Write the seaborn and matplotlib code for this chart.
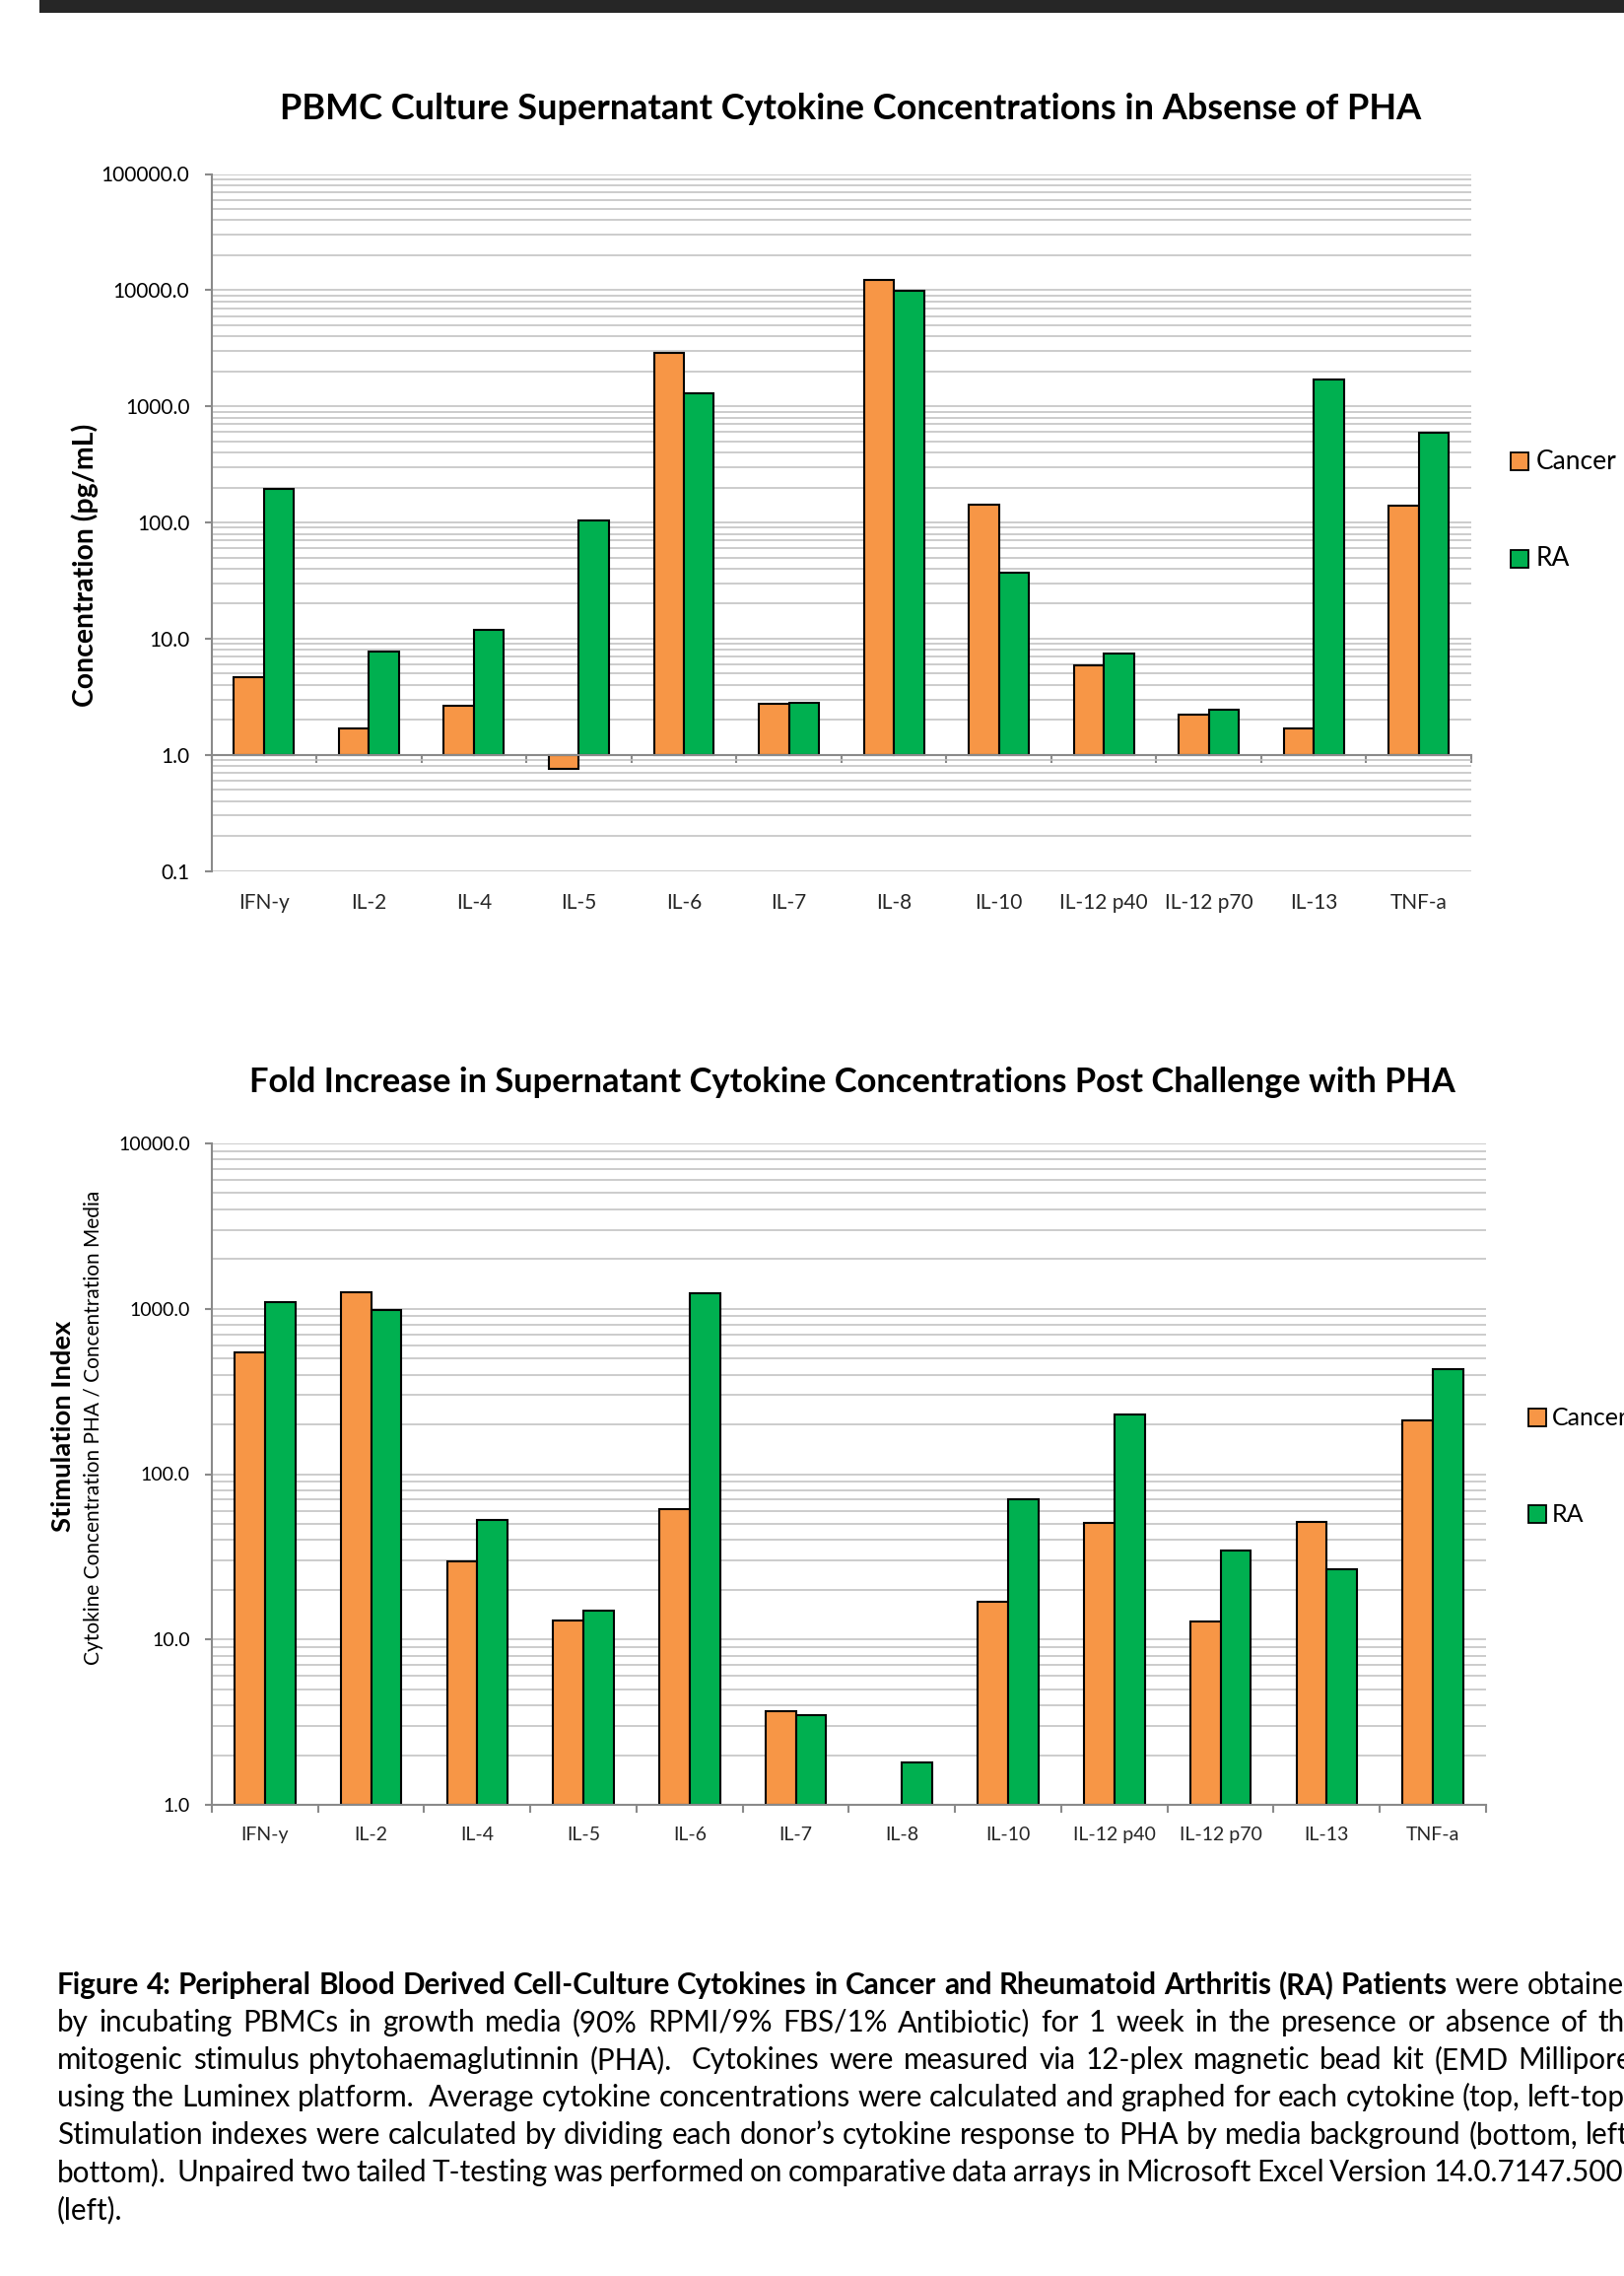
import numpy as np
import pandas as pd
import matplotlib
matplotlib.use("Agg")
import matplotlib.pyplot as plt
import matplotlib.ticker as mticker
from matplotlib.patches import Rectangle
import seaborn as sns

# ---- data -----------------------------------------------------------------
cytokines = ["IFN-y", "IL-2", "IL-4", "IL-5", "IL-6", "IL-7", "IL-8",
             "IL-10", "IL-12 p40", "IL-12 p70", "IL-13", "TNF-a"]
groups = ["Cancer", "RA"]

# average supernatant concentration without PHA (pg/mL)
cancer_conc = [4.7, 1.68, 2.63, 0.76, 2880, 2.74, 12200, 142, 5.84, 2.22, 1.70, 139]
ra_conc = [195, 7.8, 11.9, 105, 1300, 2.79, 9900, 37.3, 7.42, 2.45, 1710, 596]

# stimulation index (PHA / media)
cancer_si = [545, 1255, 29.7, 13.0, 61.6, 3.70, np.nan, 16.9, 50.8, 12.8, 51.6, 210]
ra_si = [1097, 982, 52.7, 14.9, 1245, 3.49, 1.81, 70.0, 228, 34.3, 26.6, 430]

conc_ticks = [0.1, 1, 10, 100, 1000, 10000, 100000]
si_ticks = [1, 10, 100, 1000, 10000]

palette = {"Cancer": "#F79646", "RA": "#00B050"}

title_top = "PBMC Culture Supernatant Cytokine Concentrations in Absense of PHA"
title_bottom = "Fold Increase in Supernatant Cytokine Concentrations Post Challenge with PHA"

caption_lines = [
    [("Figure 4: Peripheral Blood Derived Cell-Culture Cytokines in Cancer and "
      "Rheumatoid Arthritis (RA) Patients", "bold"), ("were obtained", "normal")],
    [("by incubating PBMCs in growth media (90% RPMI/9% FBS/1% Antibiotic) for 1 week "
      "in the presence or absence of the", "normal")],
    [("mitogenic stimulus phytohaemaglutinnin (PHA).  Cytokines were measured via "
      "12-plex magnetic bead kit (EMD Millipore)", "normal")],
    [("using the Luminex platform.  Average cytokine concentrations were calculated "
      "and graphed for each cytokine (top, left-top).", "normal")],
    [("Stimulation indexes were calculated by dividing each donor\u2019s cytokine "
      "response to PHA by media background (bottom, left-", "normal")],
    [("bottom).  Unpaired two tailed T-testing was performed on comparative data "
      "arrays in Microsoft Excel Version 14.0.7147.5001", "normal")],
    [("(left).", "normal")],
]

# ---- style ----------------------------------------------------------------
sns.set_theme(style="white")
plt.rcParams["font.family"] = ["Lato", "DejaVu Sans"]
plt.rcParams["text.color"] = "black"

GRID = "#BEBEBE"
AXIS = "#8A8A8A"

W, H = 1649, 2309
fig = plt.figure(figsize=(W / 100, H / 100), dpi=100)
fig.patch.set_facecolor("white")
renderer = fig.canvas.get_renderer()


def fx(x):
    return x / W


def fy(y):
    return 1 - y / H


def text_width(s, size, weight="normal"):
    t = fig.text(0, 0, s, fontsize=size, fontweight=weight)
    w = t.get_window_extent(renderer).width
    t.remove()
    return w


def fit_size(s, target, weight="normal", base=20.0):
    return base * target / text_width(s, base, weight)


def draw_bars(ax, cancer, ra, baseline):
    df = pd.DataFrame({
        "cytokine": cytokines * 2,
        "group": ["Cancer"] * len(cytokines) + ["RA"] * len(cytokines),
        "value": list(cancer) + list(ra),
    }).dropna()
    # bars rise (or drop) from the axis crossing value
    df["height"] = df["value"] - baseline
    sns.barplot(data=df, x="cytokine", y="height", hue="group",
                order=cytokines, hue_order=groups, palette=palette,
                saturation=1, width=2 / 3.5, gap=0, errorbar=None,
                edgecolor="black", linewidth=1.5, bottom=baseline,
                legend=False, ax=ax)


def style_axes(ax, ticks, ysize):
    ax.set_yscale("log")
    ax.set_ylim(ticks[0], ticks[-1])
    ax.set_xlim(-0.5, len(cytokines) - 0.5)
    ax.yaxis.set_major_locator(mticker.FixedLocator(ticks))
    ax.yaxis.set_minor_locator(mticker.LogLocator(base=10, subs=np.arange(2, 10), numticks=200))
    ax.yaxis.set_major_formatter(mticker.FuncFormatter(lambda v, p: f"{v:.1f}"))
    ax.yaxis.set_minor_formatter(mticker.NullFormatter())
    ax.grid(True, axis="y", which="both", color=GRID, lw=1.1)
    ax.grid(False, axis="x")
    ax.set_axisbelow(True)
    ax.set_facecolor("white")
    for s in ["top", "right"]:
        ax.spines[s].set_visible(False)
    for s in ["left", "bottom"]:
        ax.spines[s].set_color(AXIS)
        ax.spines[s].set_linewidth(1.5)
    ax.tick_params(axis="y", which="major", length=5, width=1.5, color=AXIS,
                   pad=11, labelsize=ysize, labelcolor="black", left=True)
    ax.tick_params(axis="y", which="minor", length=0)
    ax.set_xlabel("")
    ax.set_ylabel("")
    ax.set_xticks(np.arange(-0.5, len(cytokines), 1.0), minor=True)
    ax.tick_params(axis="x", which="minor", length=6, width=1.5, color=AXIS,
                   direction="out", bottom=True)


def legend(cx, ys, tx, size):
    for g, y in zip(groups, ys):
        fig.add_artist(Rectangle((fx(cx - 9), fy(y + 9)), 18 / W, 18 / H,
                                 transform=fig.transFigure, facecolor=palette[g],
                                 edgecolor="black", lw=1.3))
        fig.text(fx(tx), fy(y), g, fontsize=size, ha="left", va="center")


# ---- dark band at the top of the page --------------------------------------
fig.add_artist(Rectangle((fx(40), fy(13)), (W - 40) / W, 13 / H,
                         transform=fig.transFigure, color="#262626", lw=0))

# ---- top chart: concentrations ---------------------------------------------
ax1 = fig.add_axes([fx(214.6), fy(883.7), (1493 - 214.6) / W, (883.7 - 176.5) / H])
draw_bars(ax1, cancer_conc, ra_conc, 1.0)
style_axes(ax1, conc_ticks, 15)
ax1.spines["bottom"].set_position(("data", 1.0))
ax1.set_xticks(range(len(cytokines)))
ax1.tick_params(axis="x", which="major", length=0, labelbottom=False)
sec = ax1.secondary_xaxis("bottom")
sec.set_xticks(range(len(cytokines)), labels=cytokines)
sec.tick_params(length=0, pad=16, labelsize=15)
sec.spines["bottom"].set_visible(False)

fig.text(fx(863.5), fy(121), title_top, ha="center", va="baseline",
         fontweight="bold", fontsize=fit_size(title_top, 1159, "bold"))
fig.text(fx(86), fy(573), "Concentration (pg/mL)", rotation=90, ha="center",
         va="center", fontweight="bold",
         fontsize=fit_size("Concentration (pg/mL)", 286, "bold"))
legend(1542.5, [468, 567], 1559, 19)

# ---- bottom chart: stimulation index ---------------------------------------
ax2 = fig.add_axes([fx(215), fy(1831), (1508 - 215) / W, (1831 - 1160) / H])
draw_bars(ax2, cancer_si, ra_si, 1.0)
style_axes(ax2, si_ticks, 14)
ax2.set_xticks(range(len(cytokines)), labels=cytokines)
ax2.tick_params(axis="x", which="major", length=0, pad=16, labelsize=14)

fig.text(fx(865), fy(1108), title_bottom, ha="center", va="baseline",
         fontweight="bold", fontsize=fit_size(title_bottom, 1224, "bold"))
fig.text(fx(64), fy(1447), "Stimulation Index", rotation=90, ha="center",
         va="center", fontweight="bold",
         fontsize=fit_size("Stimulation Index", 214, "bold"))
sub = "Cytokine Concentration PHA / Concentration Media"
fig.text(fx(95.5), fy(1448), sub, rotation=90, ha="center", va="center",
         fontsize=fit_size(sub, 483))
legend(1560, [1438, 1536], 1575, 18)

# ---- justified caption -----------------------------------------------------
cap_left, cap_right = 58, 1664
line4 = caption_lines[3][0][0].replace("  ", " ")
cap_size = fit_size(line4, cap_right - cap_left)
space_w = text_width("a a", cap_size) - text_width("aa", cap_size)

for i, line in enumerate(caption_lines):
    base_y = 2023 + 38 * i
    tokens = []
    for seg, weight in line:
        for tok in seg.split(" "):
            tokens.append((tok, weight))
    widths = [text_width(t, cap_size, w) if t else 0.0 for t, w in tokens]
    n_gaps = len(tokens) - 1
    last = i == len(caption_lines) - 1
    if last or n_gaps == 0:
        gap = space_w
    else:
        gap = max((cap_right - cap_left - sum(widths)) / n_gaps, 0.5 * space_w)
    x = cap_left
    for (tok, weight), w in zip(tokens, widths):
        if tok:
            fig.text(fx(x), fy(base_y), tok, fontsize=cap_size, fontweight=weight,
                     ha="left", va="baseline")
        x += w + gap

fig.savefig("out.png", dpi=100, facecolor="white")
